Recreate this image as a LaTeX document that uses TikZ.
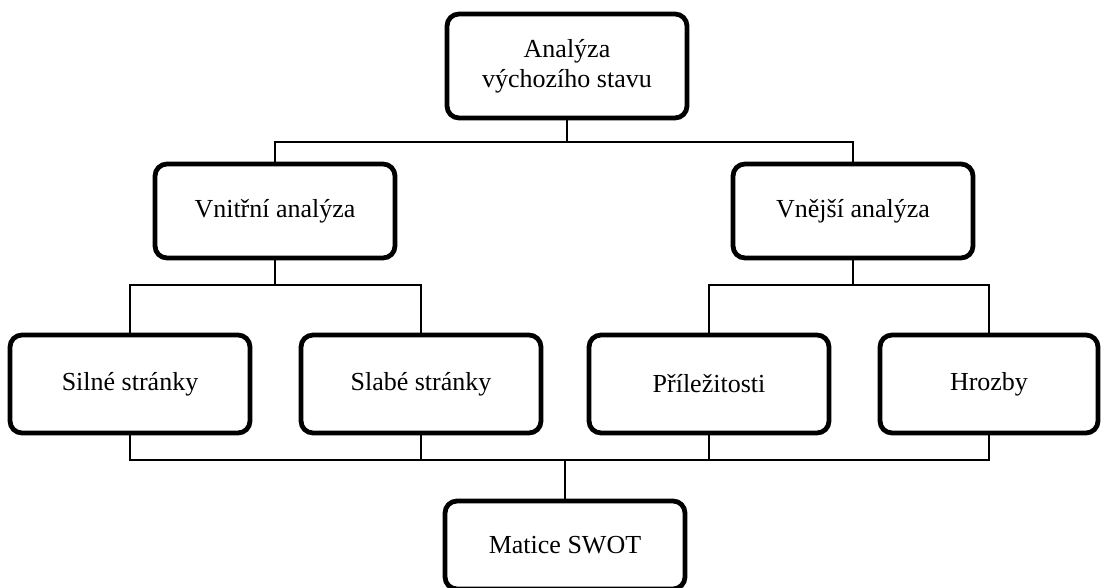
\documentclass[tikz,border=0pt]{standalone}
\usepackage{fontspec}
\setmainfont{Liberation Serif}
\usepackage{tikz}

\begin{document}
\begin{tikzpicture}[x=0.5pt,y=-0.5pt,
    box/.style={draw,line width=2.4pt,rounded corners=6pt,minimum width=120pt,align=center,
      font=\fontsize{13}{15}\selectfont},
    wire/.style={draw,line width=0.6pt}]
      \useasboundingbox (0,0) rectangle (1104,588);
      \clip (0,0) rectangle (1104,588);
      \node [box,minimum height=52pt] (vychozi) at (567,66) {Analýza\\výchozího stavu};
      \node [box,minimum height=47pt] (vnitrni) at (275,211) {Vnitřní analýza};
      \node [box,minimum height=47pt] (vnejsi) at (853,211) {Vnější analýza};
      \node [box,minimum height=49pt] (silne) at (130,384) {Silné stránky};
      \node [box,minimum height=49pt] (slabe) at (421,384) {Slabé stránky};
      \node [box,minimum height=49pt] (prilez) at (709,384) {Příležitosti};
      \node [box,minimum height=49pt,minimum width=109pt] (hrozby) at (989,384) {Hrozby};
      \node [box,minimum height=44pt] (matice) at (565,545) {Matice SWOT};
      \coordinate (horni) at (567,142);
      \coordinate (levy) at (275,285);
      \coordinate (pravy) at (853,285);
      \coordinate (dolni) at (565,460);
      \draw [wire] (vychozi) -- (horni);
      \draw [wire] (vnitrni.north) |- (horni) -| (vnejsi.north);
      \draw [wire] (vnitrni) -- (levy);
      \draw [wire] (silne.north) |- (levy) -| (slabe.north);
      \draw [wire] (vnejsi) -- (pravy);
      \draw [wire] (prilez.north) |- (pravy) -| (hrozby.north);
      \draw [wire] (silne.south) |- (dolni) -| (hrozby.south);
      \draw [wire] (slabe.south) -- (slabe.south |- dolni);
      \draw [wire] (prilez.south) -- (prilez.south |- dolni);
      \draw [wire] (dolni) -- (matice);
    \end{tikzpicture}
\end{document}
